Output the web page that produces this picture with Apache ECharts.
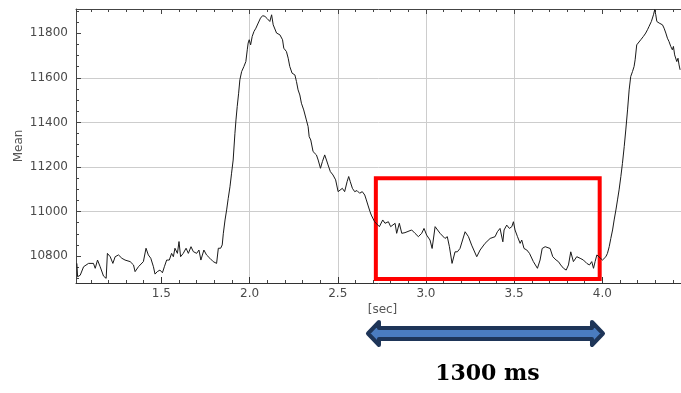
<!DOCTYPE html>
<html>
<head>
<meta charset="utf-8">
<script src="https://cdn.jsdelivr.net/npm/echarts@6/dist/echarts.min.js"></script>
<style>
html,body{margin:0;padding:0;background:#fff;}
#chart{width:681px;height:393px;}
</style>
</head>
<body>
<div id="chart"></div>
<script>
// ---- data ----
const timeSec = [
1.021,1.025,1.040,1.059,1.087,1.115,1.125,1.138,1.153,1.172,1.187,1.194,1.210,1.225,1.238,1.257,1.276,1.294,1.323,1.342,
1.351,1.370,1.398,1.413,1.426,1.440,1.455,1.464,1.477,1.492,1.506,1.517,1.530,1.545,1.558,1.568,1.577,1.591,1.600,1.609,
1.624,1.640,1.653,1.668,1.681,1.700,1.713,1.724,1.741,1.756,1.775,1.794,1.813,1.823,1.836,1.845,1.851,1.861,1.870,1.879,
1.889,1.898,1.907,1.917,1.923,1.930,1.938,1.945,1.955,1.968,1.979,1.987,1.992,1.998,2.006,2.015,2.025,2.036,2.049,2.062,
2.074,2.087,2.100,2.106,2.115,2.125,2.134,2.153,2.172,2.187,2.194,2.209,2.219,2.228,2.241,2.257,2.266,2.275,2.285,2.294,
2.307,2.322,2.332,2.338,2.347,2.360,2.370,2.379,2.389,2.402,2.413,2.426,2.436,2.445,2.458,2.473,2.488,2.502,2.511,2.526,
2.539,2.553,2.562,2.571,2.583,2.596,2.609,2.624,2.639,2.653,2.662,2.671,2.683,2.690,2.700,2.709,2.719,2.736,2.755,2.768,
2.787,2.800,2.825,2.834,2.849,2.863,2.881,2.919,2.938,2.957,2.976,2.989,3.004,3.023,3.035,3.052,3.061,3.080,3.108,3.121,
3.133,3.148,3.165,3.178,3.193,3.222,3.241,3.259,3.288,3.307,3.335,3.364,3.392,3.405,3.420,3.436,3.443,3.458,3.473,3.487,
3.496,3.505,3.519,3.534,3.543,3.556,3.572,3.587,3.609,3.632,3.647,3.659,3.676,3.704,3.719,3.738,3.751,3.764,3.780,3.795,
3.808,3.821,3.836,3.855,3.874,3.893,3.912,3.927,3.940,3.950,3.959,3.969,3.980,4.001,4.020,4.029,4.039,4.048,4.058,4.067,
4.077,4.086,4.095,4.105,4.114,4.124,4.133,4.143,4.152,4.161,4.171,4.180,4.186,4.195,4.205,4.218,4.233,4.246,4.256,4.265,
4.278,4.290,4.297,4.303,4.309,4.322,4.341,4.350,4.360,4.369,4.378,4.388,4.397,4.403,4.410,4.422,4.429,4.435,4.441
];
const meanValue = [
10767,10707,10714,10752,10767,10767,10745,10782,10752,10710,10700,10812,10797,10767,10797,10805,10790,10782,10775,10760,
10730,10752,10775,10835,10805,10790,10752,10719,10730,10737,10725,10752,10782,10782,10812,10797,10835,10812,10865,10797,
10812,10835,10812,10842,10820,10812,10827,10782,10827,10805,10790,10775,10767,10835,10835,10850,10900,10962,11007,11059,
11111,11172,11231,11351,11411,11471,11531,11591,11628,11651,11673,11726,11756,11771,11748,11786,11808,11823,11846,11868,
11879,11876,11866,11861,11853,11883,11838,11801,11793,11771,11733,11718,11688,11651,11621,11613,11583,11546,11523,11486,
11456,11411,11381,11336,11321,11269,11261,11254,11231,11194,11224,11254,11231,11209,11179,11164,11142,11089,11097,11104,
11089,11134,11157,11134,11104,11089,11094,11082,11089,11074,11052,11029,10999,10984,10977,10954,10947,10932,10962,10947,
10954,10932,10947,10902,10947,10902,10905,10917,10902,10887,10902,10924,10894,10872,10834,10932,10939,10902,10879,10887,
10842,10767,10819,10819,10834,10909,10887,10849,10797,10827,10857,10879,10887,10909,10924,10864,10917,10939,10924,10932,
10954,10917,10887,10857,10872,10834,10827,10812,10775,10745,10782,10834,10842,10834,10797,10782,10775,10760,10745,10737,
10760,10819,10775,10797,10790,10782,10767,10760,10775,10745,10775,10805,10800,10782,10797,10812,10842,10879,10917,10962,
11007,11052,11097,11157,11216,11291,11366,11456,11546,11606,11628,11651,11681,11748,11756,11771,11786,11801,11816,11831,
11853,11883,11906,11883,11853,11846,11838,11823,11801,11778,11763,11741,11726,11741,11703,11673,11688,11658,11636
];
const xTickValues = [1.5, 2.0, 2.5, 3.0, 3.5, 4.0];
const yTickValues = [10800, 11000, 11200, 11400, 11600, 11800];
const xRange = [1.016, 4.446];
const yRange = [10679, 11909];
const boxSec = [2.716, 3.985];
const boxMean = [10697, 11149];
const arrowSec = [2.66, 4.015];
const yName = 'Mean';
const xName = '[sec]';
const durationText = '1300 ms';

// ---- chart ----
const seriesData = timeSec.map((t, i) => [t, meanValue[i]]);
const chart = echarts.init(document.getElementById('chart'), null, {renderer: 'canvas'});
const labelFont = {fontFamily: 'DejaVu Sans', fontSize: 12, color: '#4a4a4a'};

chart.setOption({
  animation: false,
  backgroundColor: '#ffffff',
  grid: {left: 76, right: 0, top: 9, bottom: 110, containLabel: false, outerBoundsMode: 'none'},
  xAxis: [{
    type: 'value', position: 'bottom', min: xRange[0], max: xRange[1],
    name: xName, nameLocation: 'middle', nameGap: 21, nameMoveOverlap: false,
    nameTextStyle: {fontFamily: 'DejaVu Sans', fontSize: 12, color: '#555', padding: [0, 0, 0, 8]},
    axisLine: {show: true, lineStyle: {color: '#333', width: 1}},
    axisTick: {show: true, inside: true, length: 6, customValues: xTickValues, lineStyle: {color: '#333'}},
    minorTick: {show: true, splitNumber: 5, length: 3, lineStyle: {color: '#444'}},
    axisLabel: Object.assign({customValues: xTickValues, margin: 5, formatter: v => Number(v).toFixed(1)}, labelFont),
    splitLine: {show: true, showMinLine: false, showMaxLine: false, lineStyle: {color: '#cdcdcd', width: 1}}
  }, {
    type: 'value', position: 'top', min: xRange[0], max: xRange[1],
    axisLine: {show: true, lineStyle: {color: '#444', width: 1}},
    axisTick: {show: true, inside: true, length: 5, customValues: xTickValues, lineStyle: {color: '#444'}},
    minorTick: {show: true, splitNumber: 5, length: 3, lineStyle: {color: '#444'}},
    axisLabel: {show: false},
    splitLine: {show: false}
  }],
  yAxis: [{
    type: 'value', min: yRange[0], max: yRange[1],
    name: yName, nameLocation: 'middle', nameGap: 51, nameMoveOverlap: false,
    nameTextStyle: {fontFamily: 'DejaVu Sans', fontSize: 12, color: '#555'},
    axisLine: {show: true, lineStyle: {color: '#444', width: 1}},
    axisTick: {show: true, inside: true, length: 5, customValues: yTickValues, lineStyle: {color: '#444'}},
    minorTick: {show: true, splitNumber: 4, length: 3, lineStyle: {color: '#444'}},
    axisLabel: Object.assign({customValues: yTickValues, margin: 8, formatter: v => String(Math.round(v))}, labelFont),
    splitLine: {show: true, showMinLine: false, showMaxLine: false, lineStyle: {color: '#cdcdcd', width: 1}}
  }],
  series: [{
    type: 'line', xAxisIndex: 0, yAxisIndex: 0,
    data: seriesData, showSymbol: false, symbol: 'none',
    lineStyle: {color: '#1a1a1a', width: 1},
    z: 2,
    markArea: {
      silent: true,
      itemStyle: {color: 'rgba(0,0,0,0)', borderColor: '#ff0000', borderWidth: 4},
      data: [[{xAxis: boxSec[0], yAxis: boxMean[0]}, {xAxis: boxSec[1], yAxis: boxMean[1]}]]
    }
  }]
});

// ---- annotation arrow + text below the chart ----
const L = chart.convertToPixel({xAxisIndex: 0}, arrowSec[0]);
const R = chart.convertToPixel({xAxisIndex: 0}, arrowSec[1]);
const cy = 333.5, h = 13, sh = 11.5, ss = 5.5;
const pts = [
  [L + 2, cy], [L + h, cy - sh], [L + h, cy - ss], [R - h, cy - ss], [R - h, cy - sh],
  [R - 2, cy], [R - h, cy + sh], [R - h, cy + ss], [L + h, cy + ss], [L + h, cy + sh]
];
chart.setOption({
  graphic: [{
    type: 'polygon', silent: true,
    shape: {points: pts},
    style: {fill: '#4a7cc0', stroke: '#1e3558', lineWidth: 4, lineJoin: 'round'}
  }, {
    type: 'text', silent: true,
    x: (L + R) / 2 + 2, y: 374,
    style: {text: durationText, font: 'bold 22px "DejaVu Serif"', fill: '#000', align: 'center', verticalAlign: 'middle'}
  }]
});
</script>
</body>
</html>
